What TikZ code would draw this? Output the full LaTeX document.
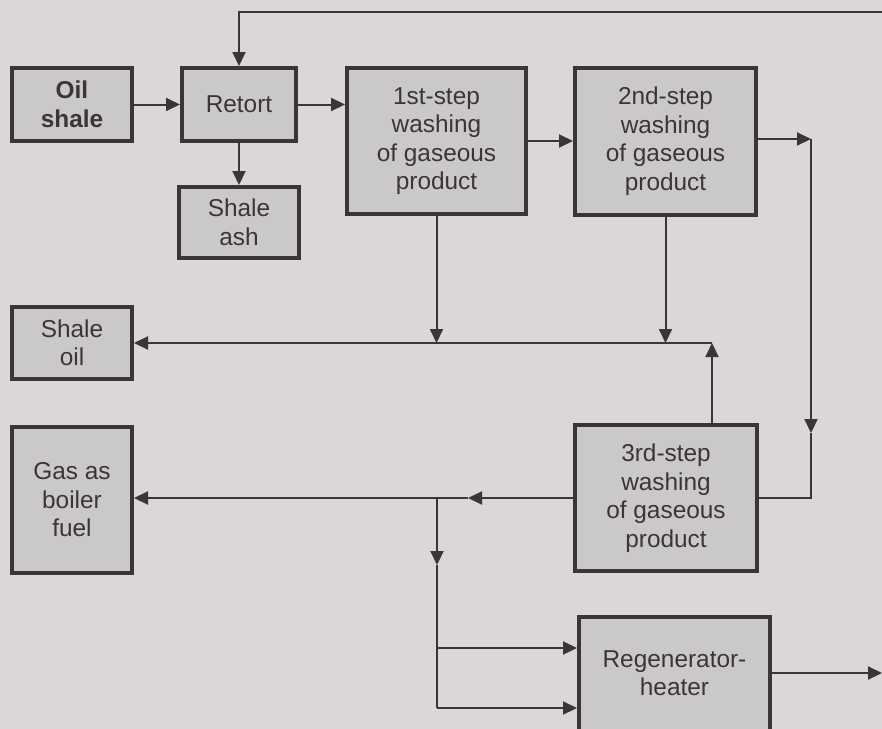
\documentclass[tikz,border=0pt]{standalone}
\usepackage{fontspec}
\setmainfont{Liberation Sans}
\usepackage{tikz}
\usetikzlibrary{arrows.meta,positioning}

\definecolor{papel}{HTML}{DBD7D6}
\definecolor{caixa}{HTML}{CAC8C8}
\definecolor{traco}{HTML}{3A3636}

\begin{document}
\begin{tikzpicture}[
  x=1pt,y=1pt,
  bloco/.style={draw=traco,line width=2pt,fill=caixa,align=center,text=traco,
    font=\fontsize{12.2}{14.25}\selectfont,inner sep=2pt},
  seta/.style={-{Triangle[length=7pt,width=6.5pt]},line width=1pt,draw=traco},
  linha/.style={line width=1pt,draw=traco}
]
\useasboundingbox (0,0) rectangle (441,-364);
\fill[papel] (-5,5) rectangle (446,-370);

\node[bloco,minimum width=60pt,minimum height=36.5pt] (oil) at (36,-52.25) {\textbf{Oil}\\\textbf{shale}};
\node[bloco,minimum width=57pt,minimum height=36.5pt,right=23pt of oil] (retort) {Retort};
\node[bloco,minimum width=60pt,minimum height=35.5pt,below=21pt of retort] (ash) {Shale\\ash};
\node[bloco,minimum width=89.5pt,minimum height=73pt,right=23.5pt of retort.north east,anchor=north west] (step1) {1st-step\\washing\\of gaseous\\product};
\node[bloco,minimum width=90.5pt,minimum height=73.5pt,right=22.5pt of step1] (step2) {2nd-step\\washing\\of gaseous\\product};
\node[bloco,minimum width=60pt,minimum height=36pt] (soil) at (36,-171.5) {Shale\\oil};
\node[bloco,minimum width=60pt,minimum height=73pt] (gas) at (36,-250) {Gas as\\boiler\\fuel};
\node[bloco,minimum width=91pt,minimum height=73pt] (step3) at (333,-249) {3rd-step\\washing\\of gaseous\\product};
\node[bloco,minimum width=95.5pt,minimum height=60pt,text depth=4pt] (regen) at (337.25,-338.5) {Regenerator-\\heater};

% pontos de ligacao
\coordinate (fb) at (441,-6);
\coordinate (c2) at (405.5,-69.5);
\coordinate (m1) at (405.5,-216.5);
\coordinate (j3) at (356,-171.5);
\coordinate (m2) at (234,-249);
\coordinate (b0) at (218.5,-249);
\coordinate (m3) at (218.5,-282.5);
\coordinate (b1) at (218.5,-324);
\coordinate (b2) at (218.5,-354);
\coordinate (out) at (441,-336.5);

\draw[seta] (oil) -- (retort);
\draw[seta] (retort) -- (retort -| step1.west);
\draw[seta] (retort) -- (ash);
\draw[seta] (step1) -- (step2);
\draw[seta] (fb) -- (fb -| retort.north) -- (retort.north);
\draw[seta] (step2.east |- c2) -- (c2);
\draw[seta] (c2) -- (m1);
\draw[linha] (m1) -- (m1 |- step3.east) -- (step3.east);
\draw[seta] (step1.south) -- (step1.south |- j3);
\draw[seta] (step2.south) -- (step2.south |- j3);
\draw[seta] (step3.north -| j3) -- (j3);
\draw[linha] (j3) -- (j3 -| step1.south);
\draw[seta] (j3 -| step1.south) -- (soil.east);
\draw[seta] (step3.west) -- (m2);
\draw[seta] (m2) -- (gas.east |- m2);
\draw[seta] (b0) -- (m3);
\draw[linha] (m3) -- (b2);
\draw[seta] (b1) -- (b1 -| regen.west);
\draw[seta] (b2) -- (b2 -| regen.west);
\draw[seta] (regen.east |- out) -- (out);
\end{tikzpicture}
\end{document}
